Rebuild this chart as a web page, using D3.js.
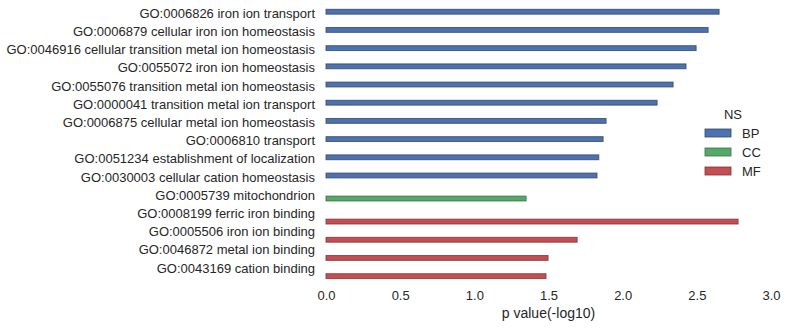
<!DOCTYPE html>
<html><head><meta charset="utf-8">
<script src="https://cdn.jsdelivr.net/npm/d3@7"></script>
<style>body{margin:0;background:#fff;} text{font-family:"Liberation Sans",Arial,sans-serif;fill:#262626;}</style>
</head><body><svg id="c" width="788" height="328"></svg>
<script>
const terms = ["GO:0006826 iron ion transport","GO:0006879 cellular iron ion homeostasis","GO:0046916 cellular transition metal ion homeostasis","GO:0055072 iron ion homeostasis","GO:0055076 transition metal ion homeostasis","GO:0000041 transition metal ion transport","GO:0006875 cellular metal ion homeostasis","GO:0006810 transport","GO:0051234 establishment of localization","GO:0030003 cellular cation homeostasis","GO:0005739 mitochondrion","GO:0008199 ferric iron binding","GO:0005506 iron ion binding","GO:0046872 metal ion binding","GO:0043169 cation binding"];
const ns = ["BP","BP","BP","BP","BP","BP","BP","BP","BP","BP","CC","MF","MF","MF","MF"];
const pvals = [2.65,2.576,2.495,2.427,2.34,2.232,1.888,1.868,1.839,1.827,1.349,2.778,1.693,1.497,1.483];
const groups = ["BP","CC","MF"];
const colors = ["#4C72B0","#55A868","#C44E52"];
const strokes = ["#33466a","#3a6b47","#7d3336"];
const xTicks = [0,0.5,1.0,1.5,2.0,2.5,3.0];

const svg = d3.select("#c");
const L = 326, R = 771, T = 7.5, B = 280.4;
const x = d3.scaleLinear().domain([0,3]).range([L,R]);
const y = d3.scaleBand().domain(terms).range([T,B]).paddingInner(0).paddingOuter(0);
const sub = d3.scaleBand().domain(groups).range([y.bandwidth()*0.1, y.bandwidth()*0.9]);
const col = d3.scaleOrdinal().domain(groups).range(colors);
const stk = d3.scaleOrdinal().domain(groups).range(strokes);

const data = terms.map((t,i)=>({t, g: ns[i], v: pvals[i]}));

svg.append("g").selectAll("rect").data(data).join("rect")
  .attr("x", x(0))
  .attr("y", d => y(d.t) + sub(d.g))
  .attr("width", d => x(d.v) - x(0))
  .attr("height", sub.bandwidth())
  .attr("fill", d => col(d.g))
  .attr("stroke", d => stk(d.g))
  .attr("stroke-opacity", 0.8)
  .attr("stroke-width", 1);

// y labels
const yAxis = d3.axisLeft(y).tickSize(0).tickPadding(11);
const gy = svg.append("g").attr("transform",`translate(${L},0)`).call(yAxis);
gy.select(".domain").remove();
gy.selectAll("text").style("font-size","13px").attr("fill","#262626").attr("dy","0.1em");

// x axis
const xAxis = d3.axisBottom(x).tickValues(xTicks).tickFormat(d3.format(".1f")).tickSize(0).tickPadding(10);
const gx = svg.append("g").attr("transform",`translate(0,${B})`).call(xAxis);
gx.select(".domain").remove();
gx.selectAll("text").style("font-size","13px").attr("fill","#262626");

svg.append("text").attr("x",(L+R)/2).attr("y",318).attr("text-anchor","middle")
  .style("font-size","14px").text("p value(-log10)");

// legend
const lg = svg.append("g");
lg.append("text").attr("x",733).attr("y",119).attr("text-anchor","middle").style("font-size","13px").text("NS");
groups.forEach((g,i)=>{
  const yy = 129 + i*19;
  lg.append("rect").attr("x",705).attr("y",yy).attr("width",26).attr("height",8)
    .attr("fill",col(g)).attr("stroke",stk(g)).attr("stroke-opacity",0.8).attr("stroke-width",1);
  lg.append("text").attr("x",742).attr("y",yy+4).attr("dy","0.35em").style("font-size","13px").text(g);
});
</script></body></html>
